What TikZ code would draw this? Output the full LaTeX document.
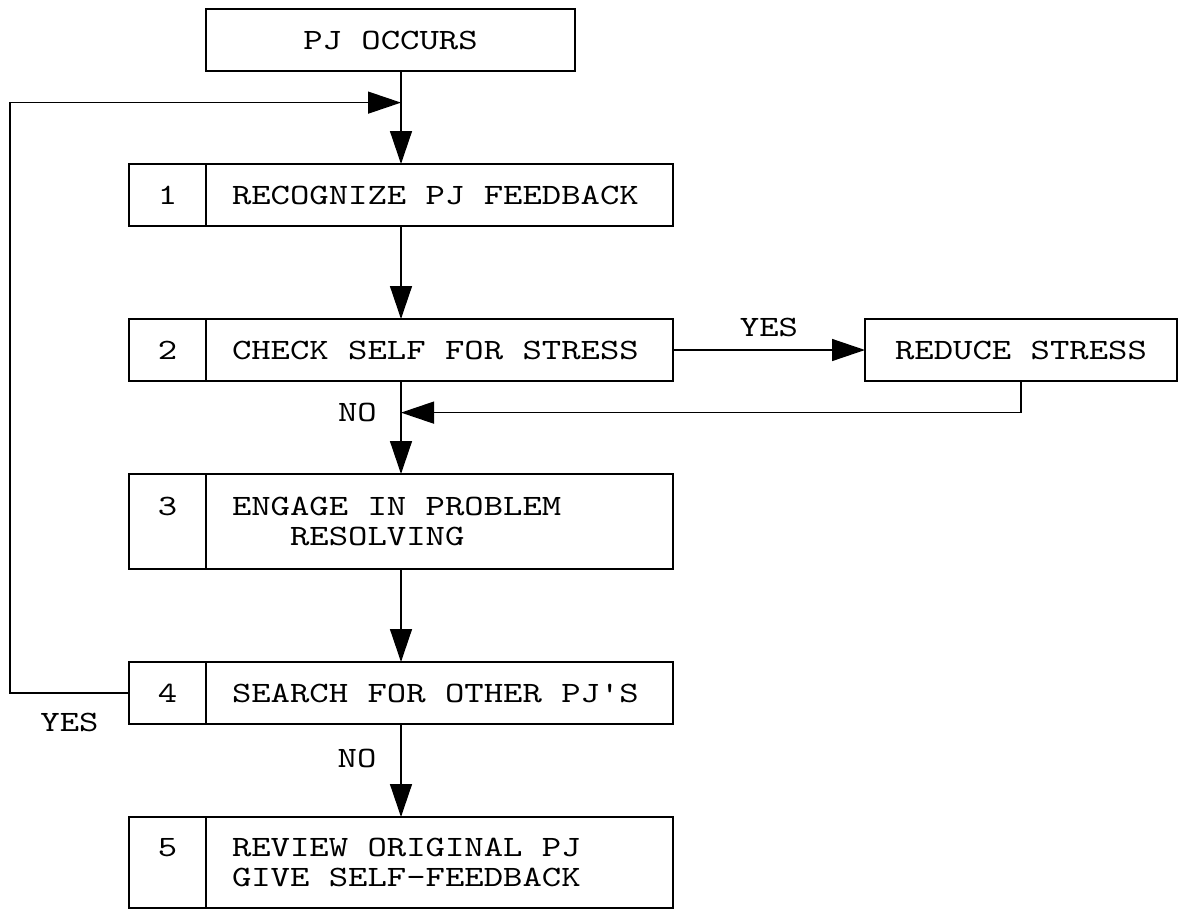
\documentclass[tikz,border=0pt]{standalone}
\usepackage{fontspec}
\setmonofont{lmmono10-regular.otf}[FakeStretch=1.25]
\usetikzlibrary{positioning,calc,arrows.meta}

% typewriter face with fixed word spaces
\newcommand{\flowfont}{\ttfamily\fontsize{16.8}{17}\selectfont}
\newcommand{\fixspace}{\spaceskip 11.03pt\relax\xspaceskip 11.03pt\relax}

\tikzset{%
  % Specifications for style of nodes:
      plainbox/.style = {rectangle, draw=black, line width=1.1pt, outer sep=0pt, minimum height=1.24cm},
        numbox/.style = {plainbox, minimum width=1.54cm, align=center},
       textbox/.style = {plainbox, text width=8.3cm, inner xsep=0.52cm, align=left, execute at begin node=\fixspace},
  % Specifications for style of arrows:
          flow/.style = {line width=0.8pt, -{Triangle[length=0.66cm, width=0.44cm]}},
}

\begin{document}
\begin{tikzpicture}[font=\flowfont]
    \useasboundingbox (0,0) rectangle (23.6,-18.18);

    % Draw nodes
    \node (occurs)  [plainbox, minimum width=7.38cm] at (7.81,-0.8) {PJ OCCURS};
    \node (step1)   [textbox, below=1.86cm of occurs.south west, anchor=north west] {RECOGNIZE PJ FEEDBACK};
    \node (step2)   [textbox, below=1.86cm of step1] {CHECK SELF FOR STRESS};
    \node (step3)   [textbox, below=1.86cm of step2, minimum height=1.9cm] {ENGAGE IN PROBLEM\\\phantom{ENG}RESOLVING};
    \node (step4)   [textbox, below=1.86cm of step3] {SEARCH FOR OTHER PJ'S};
    \node (step5)   [textbox, below=1.86cm of step4, minimum height=1.82cm] {REVIEW ORIGINAL PJ\\GIVE SELF-FEEDBACK};

    \node (num1)    [numbox, left=0cm of step1] {1};
    \node (num2)    [numbox, left=0cm of step2] {2};
    \node (num3)    [numbox, left=0cm of step3, minimum height=1.9cm] {3\\~};
    \node (num4)    [numbox, left=0cm of step4] {4};
    \node (num5)    [numbox, left=0cm of step5, minimum height=1.82cm] {5\\~};

    \node (reduce)  [plainbox, minimum width=6.24cm, right=3.84cm of step2] {REDUCE STRESS};

    % Draw arrows
    \coordinate (spine) at ($(num1.west)!0.5!(step1.east)$);
    \coordinate (join)  at ($(occurs.south -| spine)!0.34!(step1.north -| spine)$);
    \coordinate (back)  at ($(step2.south -| spine)!0.34!(step3.north -| spine)$);

    \draw[flow] (occurs.south -| spine) -- (step1.north -| spine);
    \draw[flow] (step1.south -| spine) -- (step2.north -| spine);
    \draw[flow] (step2.east) -- node[midway, above=4pt] (yes1) {YES} (reduce.west);
    \draw[flow] (reduce.south) |- (back);
    \node (no1) [left=0.36cm of back] {NO};
    \draw[flow] (step2.south -| spine) -- (step3.north -| spine);
    \draw[flow] (step3.south -| spine) -- (step4.north -| spine);
    \draw[flow] (num4.west) -- node[midway, below=0.28cm] (yes2) {YES} ++(-2.38,0) |- (join);
    \draw[flow] (step4.south -| spine) -- node[pos=0.37, left=0.36cm] (no2) {NO} (step5.north -| spine);

\end{tikzpicture}
\end{document}
